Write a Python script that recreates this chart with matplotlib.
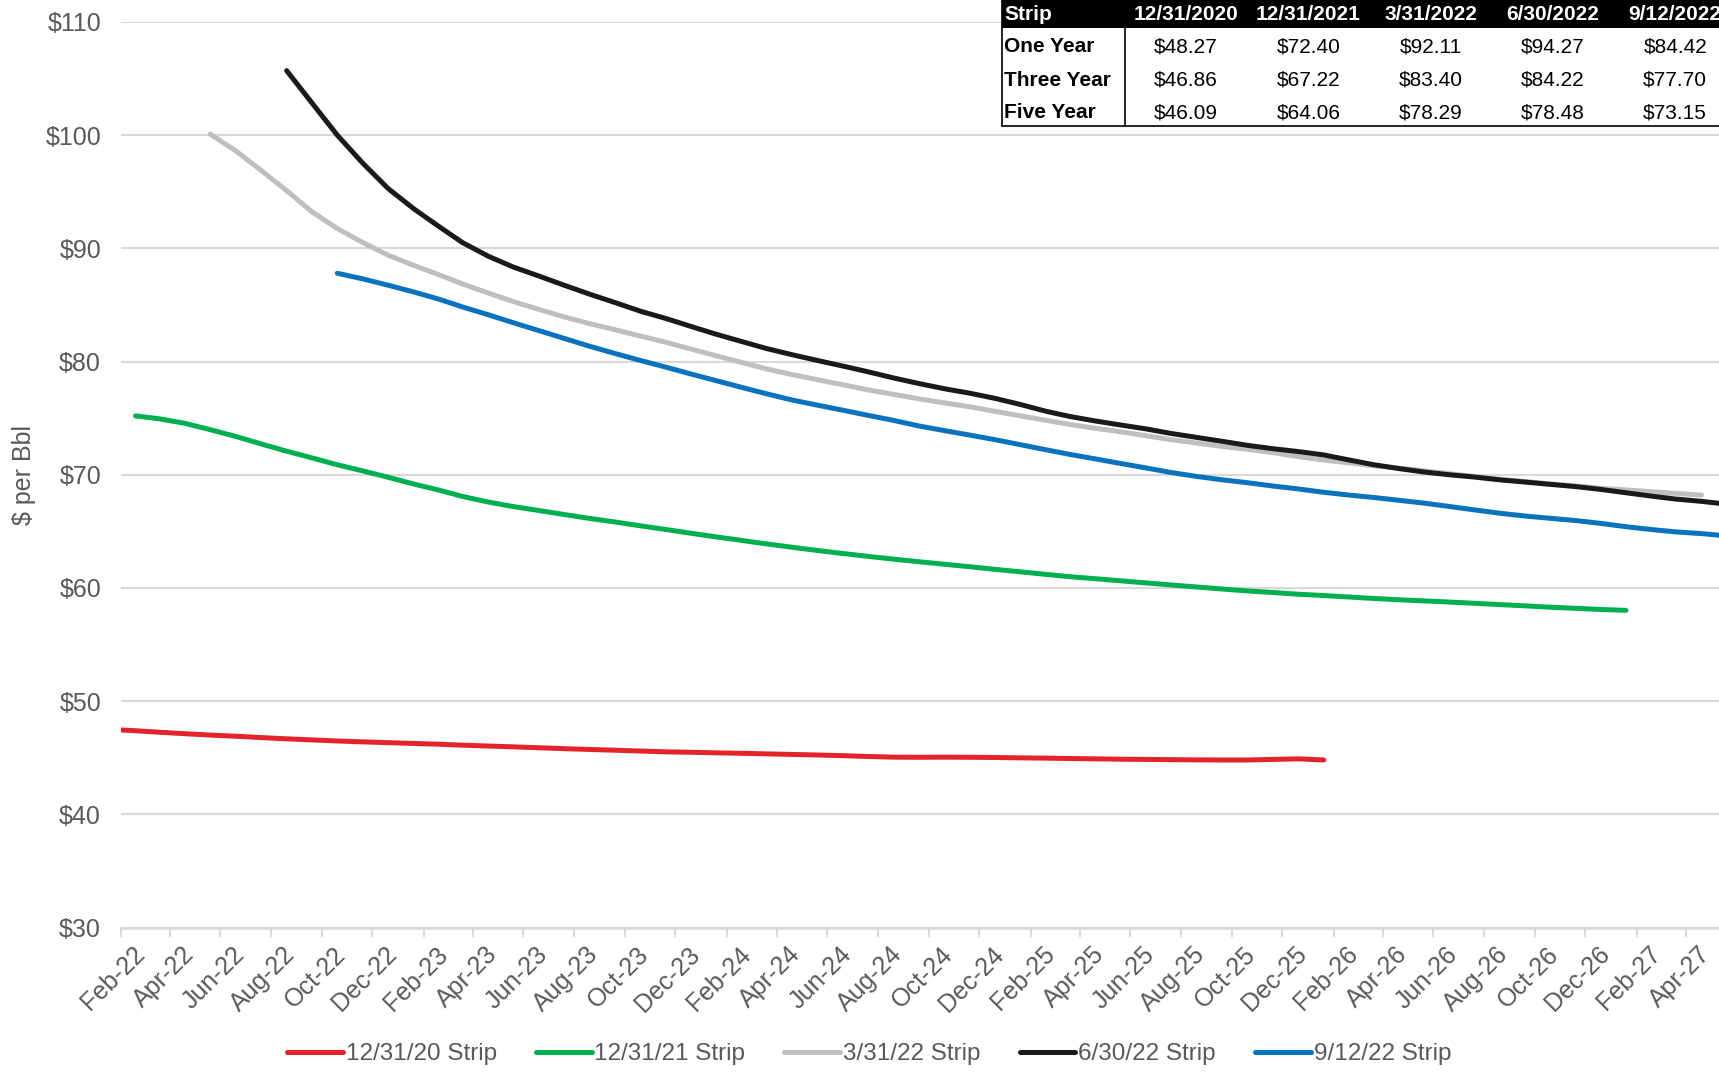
import matplotlib
matplotlib.use("Agg")
import matplotlib.pyplot as plt
import matplotlib.dates as mdates
import matplotlib.transforms as mtransforms
from matplotlib.patches import Rectangle
from matplotlib.lines import Line2D
import pandas as pd

plt.rcParams['font.family'] = ['Liberation Sans', 'DejaVu Sans']

# WTI futures strips, $/bbl, one point per contract month
strip_names = ["12/31/20 Strip", "12/31/21 Strip", "3/31/22 Strip", "6/30/22 Strip", "9/12/22 Strip"]
strip_starts = ["2022-01-20", "2022-02-19", "2022-05-20", "2022-08-20", "2022-10-20"]

strip_2020 = [47.5, 47.38, 47.25, 47.12, 47.0, 46.9, 46.78, 46.67, 46.57, 46.48,
              46.4, 46.33, 46.26, 46.19, 46.11, 46.03, 45.96, 45.88, 45.8, 45.73,
              45.66, 45.59, 45.52, 45.48, 45.43, 45.39, 45.34, 45.29, 45.24, 45.18,
              45.11, 45.05, 45.04, 45.05, 45.04, 45.02, 44.99, 44.96, 44.93, 44.9,
              44.87, 44.85, 44.83, 44.81, 44.8, 44.8, 44.85, 44.9, 44.8]
strip_2021 = [75.2, 74.95, 74.55, 74.0, 73.4, 72.75, 72.1, 71.5, 70.9, 70.35,
              69.8, 69.2, 68.65, 68.1, 67.6, 67.2, 66.85, 66.5, 66.15, 65.83,
              65.5, 65.17, 64.84, 64.51, 64.2, 63.9, 63.6, 63.32, 63.05, 62.8,
              62.55, 62.32, 62.1, 61.88, 61.65, 61.43, 61.2, 61.0, 60.82, 60.64,
              60.45, 60.27, 60.09, 59.91, 59.74, 59.6, 59.45, 59.33, 59.2, 59.08,
              58.96, 58.86, 58.76, 58.65, 58.53, 58.42, 58.3, 58.2, 58.1, 58.02]
strip_mar22 = [100.1, 98.6, 96.9, 95.1, 93.2, 91.75, 90.5, 89.4, 88.5, 87.65,
               86.85, 86.05, 85.3, 84.6, 83.95, 83.35, 82.8, 82.25, 81.7, 81.1,
               80.5, 79.9, 79.35, 78.85, 78.4, 77.95, 77.5, 77.1, 76.7, 76.35,
               76.0, 75.6, 75.2, 74.8, 74.45, 74.1, 73.8, 73.45, 73.1, 72.8,
               72.5, 72.25, 71.95, 71.6, 71.3, 71.05, 70.8, 70.6, 70.35, 70.1,
               69.85, 69.6, 69.4, 69.2, 69.0, 68.8, 68.65, 68.5, 68.35, 68.2]
strip_jun22 = [105.7, 102.8, 100.0, 97.5, 95.3, 93.5, 91.9, 90.5, 89.3, 88.35,
               87.55, 86.75, 85.95, 85.2, 84.45, 83.8, 83.1, 82.4, 81.75, 81.15,
               80.6, 80.1, 79.6, 79.1, 78.55, 78.05, 77.6, 77.2, 76.75, 76.2,
               75.6, 75.15, 74.75, 74.4, 74.05, 73.65, 73.3, 72.95, 72.6, 72.3,
               72.05, 71.75, 71.3, 70.9, 70.55, 70.25, 70.0, 69.8, 69.55, 69.35,
               69.15, 68.95, 68.7, 68.4, 68.1, 67.85, 67.65, 67.4]
strip_sep22 = [87.8, 87.3, 86.75, 86.15, 85.5, 84.82, 84.13, 83.43, 82.73, 82.05,
               81.35, 80.7, 80.1, 79.5, 78.9, 78.3, 77.7, 77.15, 76.6, 76.15,
               75.7, 75.25, 74.8, 74.3, 73.9, 73.5, 73.1, 72.65, 72.2, 71.8,
               71.4, 71.0, 70.6, 70.2, 69.85, 69.55, 69.3, 69.0, 68.75, 68.45,
               68.2, 68.0, 67.75, 67.5, 67.2, 66.9, 66.6, 66.35, 66.15, 65.95,
               65.7, 65.4, 65.15, 64.95, 64.8, 64.6]

strip_values = [strip_2020, strip_2021, strip_mar22, strip_jun22, strip_sep22]
colors = ["#E3242B", "#00B050", "#BFBFBF", "#1A1A1A", "#0B72BF"]

# summary table
table_cols = ["12/31/2020", "12/31/2021", "3/31/2022", "6/30/2022", "9/12/2022"]
table_rows = ["One Year", "Three Year", "Five Year"]
one_year = [48.27, 72.40, 92.11, 94.27, 84.42]
three_year = [46.86, 67.22, 83.40, 84.22, 77.70]
five_year = [46.09, 64.06, 78.29, 78.48, 73.15]

W, H = 1719, 1074
fig = plt.figure(figsize=(W / 100, H / 100), dpi=100)


def fx(px):
    return px / W


def fy(py):
    return 1 - py / H


ax = fig.add_axes([fx(120.6), fy(927.5), 1 - fx(120.6), fy(22) - fy(927.5)])

for start, vals, c, name in zip(strip_starts, strip_values, colors, strip_names):
    dates = pd.date_range(start, periods=len(vals), freq=pd.DateOffset(months=1))
    ax.plot(dates, vals, color=c, lw=3.6, solid_capstyle='round', label=name)

ax.set_xlim(pd.Timestamp("2022-02-01"), pd.Timestamp("2027-05-11"))
ax.set_ylim(30, 110)
ax.set_yticks(range(30, 111, 10))
ax.yaxis.set_major_formatter(matplotlib.ticker.FuncFormatter(lambda v, p: f"${v:.0f}"))

ticks = pd.date_range("2022-02-01", "2027-04-01", freq="2MS")
ax.set_xticks(ticks)
ax.xaxis.set_major_formatter(mdates.DateFormatter("%b-%y"))

grid_c = "#D9D9D9"
ax.grid(axis='y', color=grid_c, lw=1.5)
ax.set_axisbelow(True)
for s in ["top", "right", "left"]:
    ax.spines[s].set_visible(False)
ax.spines["bottom"].set_color(grid_c)
ax.spines["bottom"].set_linewidth(1.8)
ax.tick_params(axis='y', length=0, pad=14, labelsize=18, labelcolor="#595959")
ax.tick_params(axis='x', length=6.5, width=1.5, color=grid_c, pad=4,
               labelsize=18, labelcolor="#595959")

shift = mtransforms.ScaledTranslation(12 / 100, 0, fig.dpi_scale_trans)
for lab in ax.get_xticklabels():
    lab.set_rotation(45)
    lab.set_ha('right')
    lab.set_va('top')
    lab.set_rotation_mode('anchor')
    lab.set_transform(lab.get_transform() + shift)

fig.text(fx(24), fy(475), "$ per Bbl", rotation=90, ha='center', va='center',
         fontsize=18, color="#595959")

fig.legend(loc='center', bbox_to_anchor=(fx(869), fy(1054)), ncol=5, frameon=False,
           fontsize=17.5, handlelength=2.3, handletextpad=0.12, columnspacing=1.6,
           labelcolor="#595959")

# table in the upper right corner
left, head_bot, bot, sep = 1002, 28, 126, 1125
fig.add_artist(Rectangle((fx(left), fy(bot)), 1 - fx(left), fy(head_bot) - fy(bot),
                         transform=fig.transFigure, facecolor='white', edgecolor='none', zorder=5))
fig.add_artist(Rectangle((fx(left), fy(head_bot)), 1 - fx(left), fy(0) - fy(head_bot),
                         transform=fig.transFigure, facecolor='black', edgecolor='none', zorder=5))
for xs, ys in [([left, left], [0, bot]), ([left, W], [bot, bot]), ([sep, sep], [head_bot, bot])]:
    fig.add_artist(Line2D([fx(x) for x in xs], [fy(y) for y in ys], transform=fig.transFigure,
                          color='black', lw=1.2, zorder=6))

col_x = [1186 + 122.3 * i for i in range(len(table_cols))]
fig.text(fx(1004), fy(14), "Strip", ha='left', va='center', fontsize=15,
         fontweight='bold', color='white', zorder=7)
for x, t in zip(col_x, table_cols):
    fig.text(fx(x), fy(14), t, ha='center', va='center', fontsize=15,
             fontweight='bold', color='white', zorder=7)
for y, name, vals in zip([47, 80, 113], table_rows, [one_year, three_year, five_year]):
    fig.text(fx(1004), fy(y), name, ha='left', va='center', fontsize=15,
             fontweight='bold', color='black', zorder=7)
    for x, v in zip(col_x, vals):
        fig.text(fx(x), fy(y), f"${v:.2f}", ha='center', va='center', fontsize=15,
                 color='black', zorder=7)

fig.savefig("out.png", dpi=100)
